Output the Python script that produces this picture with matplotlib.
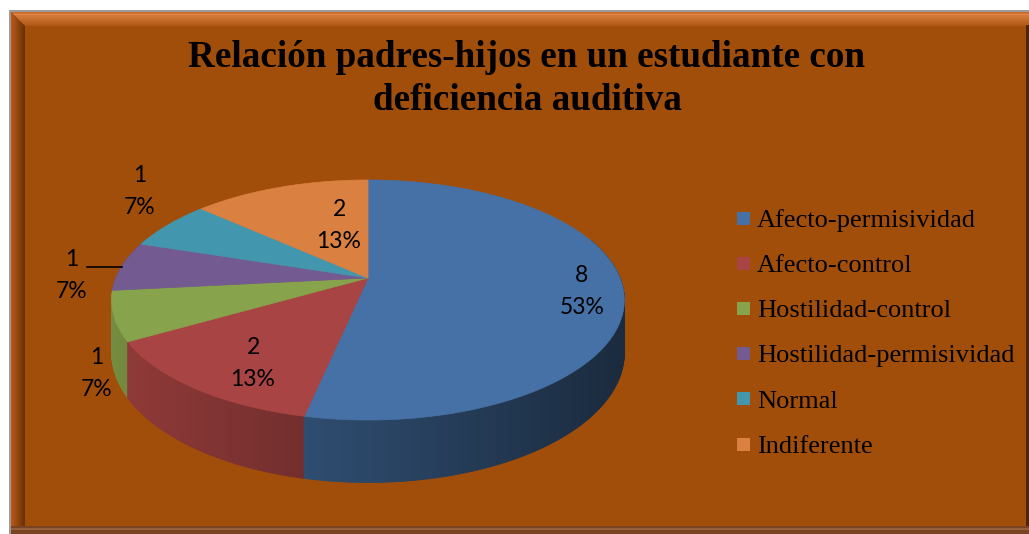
import numpy as np
import matplotlib
matplotlib.use("Agg")
import matplotlib.pyplot as plt
from matplotlib.patches import Polygon, Rectangle
from matplotlib.colors import to_rgb

# ---------------- data ----------------
title_lines = ["Relación padres-hijos en un estudiante con", "deficiencia auditiva"]
categories = ["Afecto-permisividad", "Afecto-control", "Hostilidad-control",
              "Hostilidad-permisividad", "Normal", "Indiferente"]
values = [8, 2, 1, 1, 1, 2]
colors = ["#4571A6", "#A84443", "#87A34B", "#735A91", "#4297AF", "#DA8040"]

# ---------------- layout ----------------
W, H = 1029, 534
BG = "#A14E0B"
fig = plt.figure(figsize=(W / 100, H / 100), dpi=100)
fig.patch.set_facecolor("white")
ax = fig.add_axes([0, 0, 1, 1])
ax.set_xlim(0, W)
ax.set_ylim(H, 0)
ax.axis("off")


def mix(c1, c2, t):
    a, b = np.array(to_rgb(c1)), np.array(to_rgb(c2))
    return tuple(a + (b - a) * t)


# frame
ax.add_patch(Rectangle((9, 10), W - 9, H - 10, color="#9C9C9C", lw=0))
ax.add_patch(Rectangle((11, 12), W - 11, H - 12, color=BG, lw=0))
nb = 14
for k in range(nb):
    t = k / (nb - 1)
    c = mix("#E08545", "#B05816", t) if k > 2 else mix("#C8682A", "#E08545", k / 2)
    ax.add_patch(Polygon([(11 + k, 12 + k), (W, 12 + k), (W, 13 + k), (12 + k, 13 + k)],
                         closed=True, color=c, lw=0))
for k in range(nb):
    t = k / (nb - 1)
    c = mix("#B8581A", "#6A3105", t)
    ax.add_patch(Polygon([(11 + k, 12 + k), (12 + k, 13 + k), (12 + k, H - 7), (11 + k, H - 7)],
                         closed=True, color=c, lw=0))
ax.add_patch(Rectangle((11, H - 8), W - 11, 8, color="#7A4422", lw=0))
ax.add_patch(Rectangle((11, H - 6), W - 11, 2, color="#946040", lw=0))
ax.add_patch(Rectangle((W - 3, 25), 3, H - 33, color="#4D2606", lw=0))

# title
ax.text(527, 67, title_lines[0], ha="center", va="baseline", fontsize=26.7,
        fontweight="bold", family="Liberation Serif", color="black")
ax.text(527, 110, title_lines[1], ha="center", va="baseline", fontsize=26.7,
        fontweight="bold", family="Liberation Serif", color="black")

# ---------------- 3D pie with perspective ----------------
cx, cy, A, B, p, D = 368, 278, 252, 116, 0.1833, 51


def proj(phi_deg, r=1.0):
    ph = np.radians(phi_deg)
    u = r * np.sin(ph)
    v = -r * np.cos(ph)
    s = 1.0 / (1.0 - p * v)
    return cx + A * u * s, cy + B * v * s, v, s


total = float(sum(values))
bounds = np.concatenate([[0.0], np.cumsum(values) / total * 360.0])


def shade(x):
    return float(np.clip(0.86 - (x - 115) / 485 * 0.46, 0.38, 0.95))


quads = []
for i, col in enumerate(colors):
    a0, a1 = bounds[i], bounds[i + 1]
    n = max(2, int(np.ceil((a1 - a0) / 1.0)))
    angs = np.linspace(a0, a1, n + 1)
    for j in range(n):
        x0, y0, v0, s0 = proj(angs[j])
        x1, y1, v1, s1 = proj(angs[j + 1])
        vm = 0.5 * (v0 + v1)
        if vm < -0.35:
            continue
        poly = [(x0, y0), (x1, y1), (x1, y1 + D * s1), (x0, y0 + D * s0)]
        f = shade(0.5 * (x0 + x1))
        c = tuple(np.array(to_rgb(col)) * f)
        quads.append((vm, poly, c))
quads.sort(key=lambda q: q[0])
for vm, poly, c in quads:
    ax.add_patch(Polygon(poly, closed=True, facecolor=c, edgecolor=c, lw=0.6))

for i, col in enumerate(colors):
    a0, a1 = bounds[i], bounds[i + 1]
    angs = np.linspace(a0, a1, max(3, int((a1 - a0) * 2)))
    pts = [(cx, cy)] + [proj(a)[:2] for a in angs]
    ax.add_patch(Polygon(pts, closed=True, facecolor=col, edgecolor=col, lw=0.5))

# data labels
label_anchor = [(582, 291), (253, 363), (97, 374), (72, 275), (140, 191), (339, 225)]
for (lx, ly), v in zip(label_anchor, values):
    pct = f"{round(100 * v / total)}%"
    ax.text(lx, ly - 16, f"{v}", ha="center", va="center", fontsize=16.5,
            family="Lato", color="black")
    ax.text(lx, ly + 16, pct, ha="center", va="center", fontsize=16.5,
            family="Lato", color="black")
ax.plot([87, 122], [267, 267], color="black", lw=1.2)

# legend
for i, (name, col) in enumerate(zip(categories, colors)):
    yc = 218 + i * 45.2
    ax.add_patch(Rectangle((737, yc - 6.5), 13, 13, facecolor=col, lw=0))
    ax.text(757, yc + 8.8, name, ha="left", va="baseline", fontsize=19,
            family="Liberation Serif", color="black")

fig.savefig("out.png", dpi=100, facecolor="white")
